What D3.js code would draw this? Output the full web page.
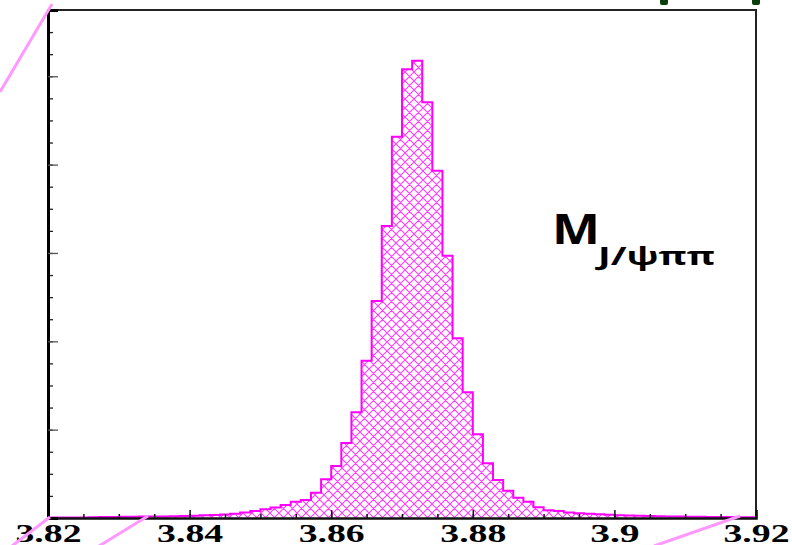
<!DOCTYPE html>
<html>
<head>
<meta charset="utf-8">
<script src="https://cdn.jsdelivr.net/npm/d3@7"></script>
<style>
  html, body { margin: 0; padding: 0; background: #fff; }
  svg { display: block; }
</style>
</head>
<body>
<div id="chart"></div>
<script>
// histogram of M(J/psi pi pi), 70 bins over 3.82 - 3.92
const binLow = 3.82
const binHigh = 3.92
const counts = [
  5, 5, 6, 6, 8, 11, 11, 14, 15, 16,
  17, 18, 20, 23, 26, 31, 34, 41, 49, 61,
  79, 98, 119, 147, 185, 204, 286, 438, 589, 849,
  1196, 1780, 2456, 3305, 4316, 5079, 5176, 4705, 3931, 2969,
  2034, 1423, 948, 619, 430, 309, 229, 185, 121, 88,
  79, 62, 54, 48, 42, 36, 32, 28, 25, 23,
  20, 18, 17, 15, 14, 12, 11, 10, 9, 8
]
const xMajorTicks = [3.82, 3.84, 3.86, 3.88, 3.9, 3.92]
const xTickLabels = ['3.82', '3.84', '3.86', '3.88', '3.9', '3.92']
const yMax = 5750
const yMajorStep = 1000
const yMinorStep = 250

const width = 792
const height = 545
const margin = { top: 10, right: 36, bottom: 27, left: 48 }

const svg = d3.select('#chart')
  .append('svg')
  .attr('width', width)
  .attr('height', height)

const x = d3.scaleLinear()
  .domain([binLow, binHigh])
  .range([margin.left, width - margin.right])

const y = d3.scaleLinear()
  .domain([0, yMax])
  .range([height - margin.bottom, margin.top])

const nBins = counts.length
const binWidth = (binHigh - binLow) / nBins
const steps = counts.map((c, i) => ({ x: binLow + i * binWidth, c }))
steps.push({ x: binHigh, c: counts[nBins - 1] })

// cross hatch fill
const defs = svg.append('defs')
const pat = defs.append('pattern')
  .attr('id', 'hatch')
  .attr('patternUnits', 'userSpaceOnUse')
  .attr('width', 9)
  .attr('height', 9)
pat.append('path')
  .attr('d', 'M0,0L9,9M0,9L9,0M-1,1L1,-1M8,10L10,8M-1,8L1,10M8,-1L10,1')
  .attr('stroke', '#ff3cff')
  .attr('stroke-width', 1.1)
  .attr('fill', 'none')

const area = d3.area()
  .x((d) => x(d.x))
  .y0(y(0))
  .y1((d) => y(d.c))
  .curve(d3.curveStepAfter)

const line = d3.line()
  .x((d) => x(d.x))
  .y((d) => y(d.c))
  .curve(d3.curveStepAfter)

svg.append('path')
  .datum(steps)
  .attr('d', area)
  .attr('fill', 'url(#hatch)')

svg.append('path')
  .datum(steps)
  .attr('d', line)
  .attr('fill', 'none')
  .attr('stroke', '#ff00ff')
  .attr('stroke-width', 2)

// frame
const x0 = x.range()[0]
const x1 = x.range()[1]
const yb = y.range()[0]
const yt = y.range()[1]
svg.append('path')
  .attr('d', `M${x0},${yt}H${x1}V${yb}`)
  .attr('fill', 'none')
  .attr('stroke', '#222')
  .attr('stroke-width', 2)

// x axis
const xMinor = d3.range(0, 21).map((i) => binLow + i * 0.005)
svg.append('g')
  .attr('transform', `translate(0,${yb})`)
  .call(d3.axisBottom(x).tickValues(xMinor).tickSize(-4).tickFormat(''))
  .call((g) => g.select('.domain').remove())
  .call((g) => g.selectAll('line').attr('stroke', '#111').attr('stroke-width', 1.5))

// the slide is stretched sideways, so the labels are too
svg.append('g')
  .attr('transform', `translate(0,${yb})`)
  .call(d3.axisBottom(x).tickValues(xMajorTicks).tickSize(-8)
    .tickFormat((d, i) => xTickLabels[i]).tickPadding(6))
  .call((g) => g.select('.domain').attr('stroke', '#111').attr('stroke-width', 2.5))
  .call((g) => g.selectAll('line').attr('stroke', '#111').attr('stroke-width', 1.5))
  .call((g) => g.selectAll('text')
    .attr('font-family', '"Liberation Serif", "Times New Roman", serif')
    .attr('font-weight', 'bold')
    .attr('font-size', 25)
    .attr('textLength', (d, i) => xTickLabels[i].length * 16.5)
    .attr('lengthAdjust', 'spacingAndGlyphs')
    .attr('fill', '#000'))

// y axis
const yMinor = d3.range(yMinorStep, yMax, yMinorStep)
const yMajor = d3.range(yMajorStep, yMax, yMajorStep)
svg.append('g')
  .attr('transform', `translate(${x0},0)`)
  .call(d3.axisLeft(y).tickValues(yMinor).tickSize(-5).tickFormat(''))
  .call((g) => g.select('.domain').remove())
  .call((g) => g.selectAll('line').attr('stroke', '#222').attr('stroke-width', 1.3))

svg.append('g')
  .attr('transform', `translate(${x0},0)`)
  .call(d3.axisLeft(y).tickValues(yMajor).tickSize(-10).tickFormat(''))
  .call((g) => g.select('.domain').attr('stroke', '#000').attr('stroke-width', 3))
  .call((g) => g.selectAll('line').attr('stroke', '#555').attr('stroke-width', 1.3))

// label
svg.append('text')
  .attr('x', 552)
  .attr('y', 244)
  .attr('font-family', '"Open Sans", "Noto Sans", sans-serif')
  .attr('font-weight', 'bold')
  .attr('font-size', 41)
  .attr('textLength', 48)
  .attr('lengthAdjust', 'spacingAndGlyphs')
  .attr('fill', '#000')
  .text('M')

svg.append('text')
  .attr('x', 598)
  .attr('y', 265)
  .attr('font-family', '"Open Sans", "Noto Sans", sans-serif')
  .attr('font-weight', 'bold')
  .attr('font-size', 25)
  .attr('textLength', 117)
  .attr('lengthAdjust', 'spacingAndGlyphs')
  .attr('fill', '#000')
  .text('J/ψππ')

// slide decorations around the plot
const deco = [
  [0, 92, 52, 4],
  [50, 517, 12, 546],
  [148, 516, 99, 546],
  [740, 516, 654, 546]
]
svg.selectAll('line.deco')
  .data(deco)
  .enter()
  .append('line')
  .attr('class', 'deco')
  .attr('x1', (d) => d[0])
  .attr('y1', (d) => d[1])
  .attr('x2', (d) => d[2])
  .attr('y2', (d) => d[3])
  .attr('stroke', '#ff99ff')
  .attr('stroke-width', 3)

svg.selectAll('rect.mark')
  .data([660, 752])
  .enter()
  .append('rect')
  .attr('class', 'mark')
  .attr('x', (d) => d)
  .attr('y', -4)
  .attr('width', 8)
  .attr('height', 9)
  .attr('rx', 2)
  .attr('fill', '#0b3d0b')
</script>
</body>
</html>
